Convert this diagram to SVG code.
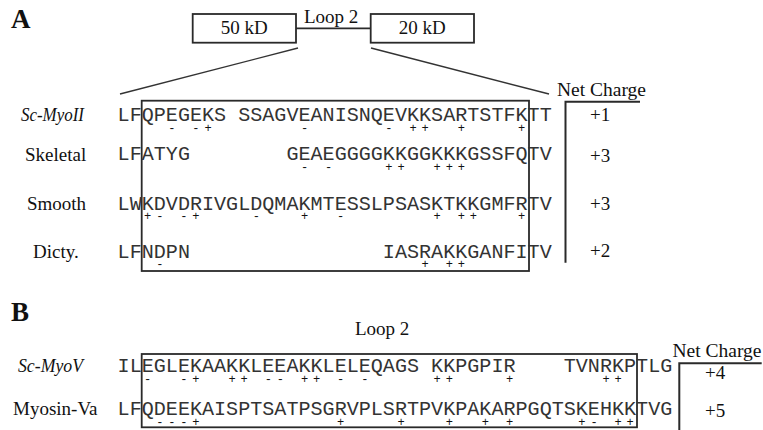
<svg xmlns="http://www.w3.org/2000/svg" width="763" height="430" viewBox="0 0 763 430">
<style>
  .serif { font-family: "Liberation Serif", "Times New Roman", serif; font-size: 19px; fill: #111; }
  .ital { font-style: italic; }
  .panel { font-family: "Liberation Serif", "Times New Roman", serif; font-size: 27px; font-weight: bold; fill: #111; }
  .seq { font-family: "Liberation Mono", "Courier New", monospace; font-size: 20.1px; fill: #333; white-space: pre; }
  .sgn { font-family: "Liberation Mono", "Courier New", monospace; font-size: 12px; letter-spacing: 4.86px; fill: #111; white-space: pre; }
  .box { fill: none; stroke: #2a2a2a; stroke-width: 1.8; }
  .ln { fill: none; stroke: #333; stroke-width: 1.4; }
  .br { fill: none; stroke: #2a2a2a; stroke-width: 2; }
</style>
<rect width="763" height="430" fill="#fff"/>

<!-- Panel A -->
<text class="panel" x="11" y="28">A</text>

<g id="domain-50kD">
  <rect class="box" x="192.7" y="14" width="103.3" height="28.7"/>
  <text class="serif" x="244.3" y="34" text-anchor="middle">50 kD</text>
</g>
<g id="domain-20kD">
  <rect class="box" x="370.7" y="14" width="103.3" height="28.7"/>
  <text class="serif" x="422.3" y="34" text-anchor="middle">20 kD</text>
</g>
<g id="connectors">
  <line class="box" x1="296" y1="28.3" x2="370.7" y2="28.3"/>
  <line class="ln" x1="298" y1="48" x2="120" y2="94"/>
  <line class="ln" x1="371" y1="48" x2="549" y2="94"/>
</g>
<text class="serif" x="304" y="22.5">Loop 2</text>

<g id="loop2-box-a">
  <rect class="box" x="141.7" y="100.7" width="387.3" height="170.3"/>
</g>

<g id="row-sc-myoii">
  <text class="serif ital" x="21" y="121" textLength="63" lengthAdjust="spacingAndGlyphs">Sc-MyoII</text>
  <text class="seq" xml:space="preserve" x="117.6" y="121">LFQPEGEKS SSAGVEANISNQEVKKSARTSTFKTT</text>
  <text class="sgn" xml:space="preserve" x="120" y="131.5">    - -+       -      - ++  +    +</text>
</g>
<g id="row-skeletal">
  <text class="serif" x="25" y="160.5">Skeletal</text>
  <text class="seq" xml:space="preserve" x="117.6" y="160">LFATYG        GEAEGGGGKKGGKKKGSSFQTV</text>
  <text class="sgn" xml:space="preserve" x="120" y="170.5">               - -    ++  +++</text>
</g>
<g id="row-smooth">
  <text class="serif" x="27" y="210">Smooth</text>
  <text class="seq" xml:space="preserve" x="117.6" y="210">LWKDVDRIVGLDQMAKMTESSLPSASKTKKGMFRTV</text>
  <text class="sgn" xml:space="preserve" x="120" y="219.5">  +- -+    -   +  -       + ++   +</text>
</g>
<g id="row-dicty">
  <text class="serif" x="33" y="258">Dicty.</text>
  <text class="seq" xml:space="preserve" x="117.6" y="258">LFNDPN                IASRAKKGANFITV</text>
  <text class="sgn" xml:space="preserve" x="120" y="267.5">   -                     + ++</text>
</g>

<g id="net-charge-a">
  <text class="serif" x="557" y="96" textLength="89" lengthAdjust="spacingAndGlyphs">Net Charge</text>
  <path class="br" d="M640 101.7 H565.5 V262.7"/>
  <text class="serif" x="590" y="120.7">+1</text>
  <text class="serif" x="590" y="161.7">+3</text>
  <text class="serif" x="590" y="210">+3</text>
  <text class="serif" x="590" y="256.7">+2</text>
</g>

<!-- Panel B -->
<text class="panel" x="11" y="321">B</text>
<text class="serif" x="355" y="335">Loop 2</text>

<g id="loop2-box-b">
  <rect class="box" x="141.7" y="354" width="495.3" height="73.3"/>
</g>

<g id="row-sc-myov">
  <text class="serif ital" x="18" y="372" textLength="65" lengthAdjust="spacingAndGlyphs">Sc-MyoV</text>
  <text class="seq" xml:space="preserve" x="117.6" y="371.7">ILEGLEKAAKKLEEAKKLELEQAGS KKPGPIR    TVNRKPTLG</text>
  <text class="sgn" xml:space="preserve" x="120" y="383">  -  -+  ++ -- ++ - -     ++    +       ++</text>
</g>
<g id="row-myosin-va">
  <text class="serif" x="13" y="415">Myosin-Va</text>
  <text class="seq" xml:space="preserve" x="117.6" y="415">LFQDEEKAISPTSATPSGRVPLSRTPVKPAKARPGQTSKEHKKTVG</text>
  <text class="sgn" xml:space="preserve" x="120" y="426">   ---+           +    +   +  + +     +- ++</text>
</g>

<g id="net-charge-b">
  <text class="serif" x="672.5" y="356.7" textLength="89" lengthAdjust="spacingAndGlyphs">Net Charge</text>
  <path class="br" d="M761.7 363.3 H679.3 V430"/>
  <text class="serif" x="705" y="379">+4</text>
  <text class="serif" x="705" y="417">+5</text>
</g>
</svg>
